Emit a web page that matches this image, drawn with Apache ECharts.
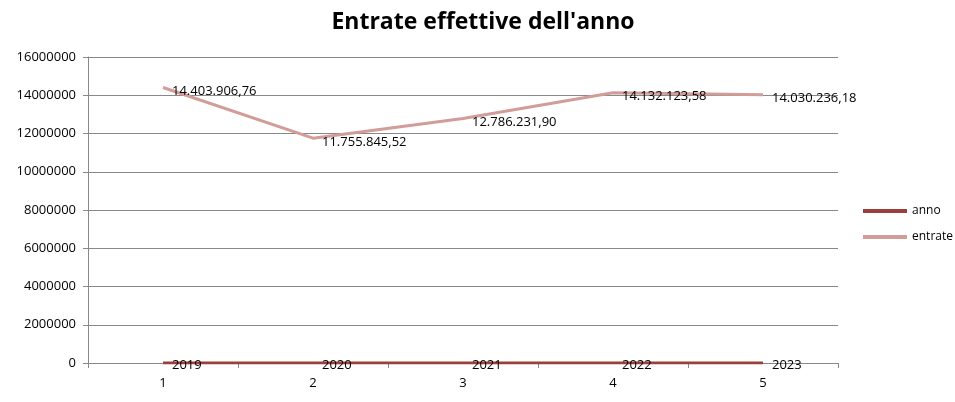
<!DOCTYPE html>
<html>
<head>
<meta charset="utf-8">
<script src="https://cdn.jsdelivr.net/npm/echarts@6/dist/echarts.min.js"></script>
<style>html,body{margin:0;padding:0;background:#fff}#chart{width:955px;height:402px}</style>
</head>
<body>
<div id="chart"></div>
<script>
var categorie = ['1', '2', '3', '4', '5'];
var anno = [2019, 2020, 2021, 2022, 2023];
var entrate = [14403906.76, 11755845.52, 12786231.90, 14132123.58, 14030236.18];

function formatIt(v) {
    var parts = v.toFixed(2).split('.');
    return parts[0].replace(/\B(?=(\d{3})+(?!\d))/g, '.') + ',' + parts[1];
}

var chart = echarts.init(document.getElementById('chart'));
var option = {
    animation: false,
    textStyle: { fontFamily: 'Open Sans' },
    title: {
        text: "Entrate effettive dell'anno",
        left: 478,
        textAlign: 'center',
        top: 6,
        textStyle: { fontSize: 23, fontWeight: 'bold', color: '#000', fontFamily: 'Open Sans' }
    },
    legend: {
        orient: 'vertical',
        left: 858,
        top: 200,
        itemGap: 14,
        itemWidth: 44,
        itemHeight: 4,
        icon: 'rect',
        textStyle: { fontSize: 12, color: '#000' },
        data: ['anno', 'entrate']
    },
    grid: { left: 88, right: 117, top: 57, bottom: 39 },
    xAxis: {
        type: 'category',
        data: categorie,
        axisLine: { lineStyle: { color: '#888' } },
        axisTick: { show: true, lineStyle: { color: '#888' } },
        axisLabel: { color: '#000', fontSize: 13, margin: 14 }
    },
    yAxis: {
        type: 'value',
        min: 0,
        max: 16000000,
        interval: 2000000,
        axisLine: { show: true, lineStyle: { color: '#888' } },
        axisTick: { show: true, lineStyle: { color: '#888' } },
        axisLabel: { color: '#000', fontSize: 13, margin: 12, formatter: function (v) { return String(v); } },
        splitLine: { lineStyle: { color: '#888', width: 1 } }
    },
    series: [
        {
            name: 'anno',
            type: 'line',
            data: anno,
            symbol: 'circle',
            symbolSize: 0,
            showSymbol: true,
            lineStyle: { color: '#9c3e3b', width: 3 },
            itemStyle: { color: '#9c3e3b' },
            label: { show: true, position: 'right', color: '#000', fontSize: 13, offset: [4, 2] }
        },
        {
            name: 'entrate',
            type: 'line',
            data: entrate,
            symbol: 'circle',
            symbolSize: 0,
            showSymbol: true,
            lineStyle: { color: '#d29c98', width: 3 },
            itemStyle: { color: '#d29c98' },
            label: {
                show: true, position: 'right', color: '#000', fontSize: 13, offset: [4, 4],
                formatter: function (p) { return formatIt(p.value); }
            }
        }
    ]
};
chart.setOption(option);
</script>
</body>
</html>
